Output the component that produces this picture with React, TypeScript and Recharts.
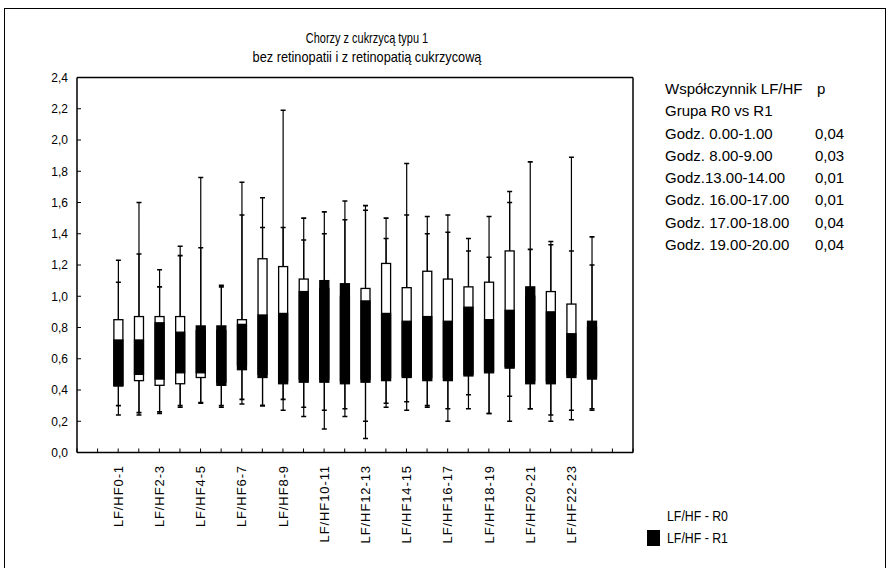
import React from 'react';
import { ComposedChart, Bar, XAxis, YAxis } from 'recharts';

// ---- data ----
const hours = [0, 1, 2, 3, 4, 5, 6, 7, 8, 9, 10, 11, 12, 13, 14, 15, 16, 17, 18, 19, 20, 21, 22, 23];

// R0 (bez retinopatii) - white boxes
const r0Max = [1.23, 1.6, 1.17, 1.32, 1.76, 1.07, 1.73, 1.63, 2.19, 1.5, 1.54, 1.61, 1.58, 1.5, 1.85, 1.51, 1.52, 1.37, 1.51, 1.67, 1.86, 1.35, 1.89, 1.38];
const r0Q3 = [0.85, 0.87, 0.87, 0.87, 0.78, 0.78, 0.85, 1.24, 1.19, 1.11, 1.05, 1.0, 1.05, 1.21, 1.055, 1.16, 1.11, 1.06, 1.09, 1.29, 1.0, 1.03, 0.95, 0.8];
const r0Q1 = [0.425, 0.46, 0.43, 0.44, 0.48, 0.45, 0.56, 0.5, 0.46, 0.47, 0.47, 0.46, 0.47, 0.48, 0.49, 0.48, 0.48, 0.5, 0.52, 0.55, 0.46, 0.46, 0.5, 0.49];
const r0Min = [0.24, 0.24, 0.26, 0.29, 0.315, 0.29, 0.31, 0.3, 0.27, 0.23, 0.15, 0.23, 0.09, 0.29, 0.27, 0.3, 0.2, 0.28, 0.25, 0.2, 0.28, 0.2, 0.21, 0.27];

// R1 (z retinopatią) - black boxes
const r1Max = [1.09, 1.27, 1.06, 1.26, 1.31, 1.06, 1.52, 1.44, 1.44, 1.36, 1.4, 1.49, 1.55, 1.37, 1.52, 1.4, 1.41, 1.29, 1.25, 1.6, 1.3, 1.33, 1.29, 1.2];
const r1Q3 = [0.72, 0.72, 0.83, 0.77, 0.81, 0.81, 0.82, 0.88, 0.89, 1.03, 1.1, 1.08, 0.97, 0.89, 0.84, 0.87, 0.84, 0.93, 0.85, 0.91, 1.06, 0.9, 0.76, 0.84];
const r1Q1 = [0.43, 0.5, 0.47, 0.51, 0.51, 0.43, 0.53, 0.48, 0.44, 0.45, 0.45, 0.44, 0.45, 0.46, 0.48, 0.46, 0.46, 0.49, 0.51, 0.54, 0.44, 0.44, 0.48, 0.47];
const r1Min = [0.3, 0.255, 0.25, 0.3, 0.32, 0.3, 0.34, 0.3, 0.34, 0.29, 0.27, 0.28, 0.2, 0.315, 0.325, 0.29, 0.28, 0.37, 0.25, 0.36, 0.28, 0.24, 0.27, 0.28];

const yTicks = [0, 0.2, 0.4, 0.6, 0.8, 1.0, 1.2, 1.4, 1.6, 1.8, 2.0, 2.2, 2.4];
const xTicks = [-2, -1, 0, 1, 2, 3, 4, 5, 6, 7, 8, 9, 10, 11, 12, 13, 14, 15, 16, 17, 18, 19, 20, 21, 22, 23, 24, 25];
const labelledHours = [0, 2, 4, 6, 8, 10, 12, 14, 16, 18, 20, 22];

const titleLines = ['Chorzy z cukrzycą typu 1', 'bez retinopatii i z retinopatią cukrzycową'];
const titleSqueeze = [0.73, 0.85];
const tableHead = ['Współczynnik LF/HF', 'p'];
const tableSub = 'Grupa R0 vs R1';
const tableHours = ['Godz. 0.00-1.00', 'Godz. 8.00-9.00', 'Godz.13.00-14.00', 'Godz. 16.00-17.00', 'Godz. 17.00-18.00', 'Godz. 19.00-20.00'];
const tableP = ['0,04', '0,03', '0,01', '0,01', '0,04', '0,04'];
const legendLabels = ['LF/HF - R0', 'LF/HF - R1'];
const legendFills = ['#ffffff', '#000000'];

const data = hours.map((h, i) => ({
  hour: h,
  r0Whisker: [r0Min[i], r0Max[i]],
  r0Box: [r0Q1[i], r0Q3[i]],
  r1Whisker: [r1Min[i], r1Max[i]],
  r1Box: [r1Q1[i], r1Q3[i]],
}));

const arial = "'Liberation Sans', Arial, sans-serif";

const norm = (p: any) => {
  const top = Math.min(p.y, p.y + p.height);
  const h = Math.abs(p.height);
  return { top, h, cx: p.x + p.width / 2 };
};

const WhiskerShape = (props: any) => {
  const { top, h, cx } = norm(props);
  if (!isFinite(top)) return null;
  return (
    <g>
      <line x1={cx} x2={cx} y1={top} y2={top + h} stroke="#000" strokeWidth={1.2} />
      <line x1={cx - 2.5} x2={cx + 2.5} y1={top} y2={top} stroke="#000" strokeWidth={1.6} />
      <line x1={cx - 2.5} x2={cx + 2.5} y1={top + h} y2={top + h} stroke="#000" strokeWidth={1.6} />
    </g>
  );
};

const makeBox = (fill: string) => (props: any) => {
  const { top, h, cx } = norm(props);
  if (!isFinite(top)) return null;
  return <rect x={cx - 4.5} y={top} width={9} height={h} fill={fill} stroke="#000" strokeWidth={1.3} />;
};
const WhiteBox = makeBox('#ffffff');
const BlackBox = makeBox('#000000');

const XTick = (props: any) => {
  const { x, y, payload } = props;
  const v = payload.value;
  if (!labelledHours.includes(v)) return null;
  return (
    <text
      transform={`translate(${x},${y}) rotate(-90)`}
      textAnchor="end"
      dy="0.36em"
      fontSize={13}
      letterSpacing={0.9}
      fontFamily={arial}
      fill="#000"
    >
      {`LF/HF${v}-${v + 1}`}
    </text>
  );
};

export default function App() {
  return (
    <div style={{ position: 'absolute', left: 0, top: 0, width: 890, height: 568, background: '#fff', overflow: 'hidden' }}>
      <div style={{ position: 'absolute', left: 4, top: 8, width: 880, height: 600, borderTop: '1.5px solid #000', borderLeft: '1.5px solid #000', borderRight: '1.5px solid #000' }} />
      <ComposedChart
        width={890}
        height={568}
        data={data}
        margin={{ top: 76.5, right: 256, bottom: 15.5, left: 37 }}
        barGap={-9}
        style={{ position: 'absolute', left: 0, top: 0 }}
      >
        <XAxis
          xAxisId="bottom"
          dataKey="hour"
          type="number"
          domain={[-2, 25]}
          ticks={xTicks}
          interval={0}
          allowDataOverflow
          tickSize={-4}
          tickMargin={16.5}
          tick={<XTick />}
          height={100}
          axisLine={{ stroke: '#000', strokeWidth: 1.5 }}
          tickLine={{ stroke: '#000' }}
        />
        <XAxis
          xAxisId="top"
          dataKey="hour"
          orientation="top"
          type="number"
          domain={[-2, 25]}
          ticks={xTicks}
          interval={0}
          allowDataOverflow
          tickSize={-4}
          tick={false}
          height={1}
          axisLine={{ stroke: '#000', strokeWidth: 1.5 }}
          tickLine={{ stroke: '#000' }}
        />
        <YAxis
          yAxisId="left"
          type="number"
          domain={[0, 2.4]}
          ticks={yTicks}
          interval={0}
          allowDataOverflow
          width={40}
          tickSize={-4}
          tickMargin={13}
          tickFormatter={(v: number) => v.toFixed(1).replace('.', ',')}
          tick={{ fontSize: 12, fill: '#000', fontFamily: arial }}
          axisLine={{ stroke: '#000', strokeWidth: 1.5 }}
          tickLine={{ stroke: '#000' }}
        />
        <YAxis
          yAxisId="right"
          orientation="right"
          type="number"
          domain={[0, 2.4]}
          ticks={yTicks}
          interval={0}
          allowDataOverflow
          width={1}
          tickSize={-4}
          tick={false}
          axisLine={{ stroke: '#000', strokeWidth: 1.5 }}
          tickLine={{ stroke: '#000' }}
        />
        <Bar xAxisId="bottom" yAxisId="left" dataKey="r0Whisker" barSize={9} shape={<WhiskerShape />} isAnimationActive={false} legendType="none" />
        <Bar xAxisId="top" yAxisId="right" dataKey="r1Whisker" barSize={9} shape={<WhiskerShape />} isAnimationActive={false} legendType="none" />
        <Bar xAxisId="bottom" yAxisId="left" dataKey="r0Box" name={legendLabels[0]} barSize={9} shape={<WhiteBox />} isAnimationActive={false} />
        <Bar xAxisId="top" yAxisId="right" dataKey="r1Box" name={legendLabels[1]} barSize={9} shape={<BlackBox />} isAnimationActive={false} />
      </ComposedChart>

      {titleLines.map((t, i) => (
        <div
          key={t}
          style={{
            position: 'absolute', left: 167, width: 400, top: 29 + i * 18.5, textAlign: 'center',
            fontFamily: arial, fontSize: 15, lineHeight: '18px', color: '#000',
            transform: `scaleX(${titleSqueeze[i]})`, transformOrigin: '200px 0',
          }}
        >
          {t}
        </div>
      ))}

      <div style={{ position: 'absolute', left: 665, top: 78, fontFamily: arial, fontSize: 15, color: '#000', lineHeight: '22.3px' }}>
        <div style={{ display: 'flex' }}>
          <span style={{ width: 152 }}>{tableHead[0]}</span>
          <span>{tableHead[1]}</span>
        </div>
        <div>{tableSub}</div>
        {tableHours.map((h, i) => (
          <div key={h} style={{ display: 'flex' }}>
            <span style={{ width: 150 }}>{h}</span>
            <span>{tableP[i]}</span>
          </div>
        ))}
      </div>

      <div style={{ position: 'absolute', left: 647, top: 505, fontFamily: arial, fontSize: 14, color: '#000', lineHeight: '22px' }}>
        {legendLabels.map((l, i) => (
          <div key={l} style={{ display: 'flex', alignItems: 'center', height: 22 }}>
            <span style={{ display: 'inline-block', width: 13, height: 16, background: legendFills[i], marginRight: 7 }} />
            <span style={{ display: 'inline-block', transform: 'scaleX(0.88)', transformOrigin: '0 50%' }}>{l}</span>
          </div>
        ))}
      </div>
    </div>
  );
}
